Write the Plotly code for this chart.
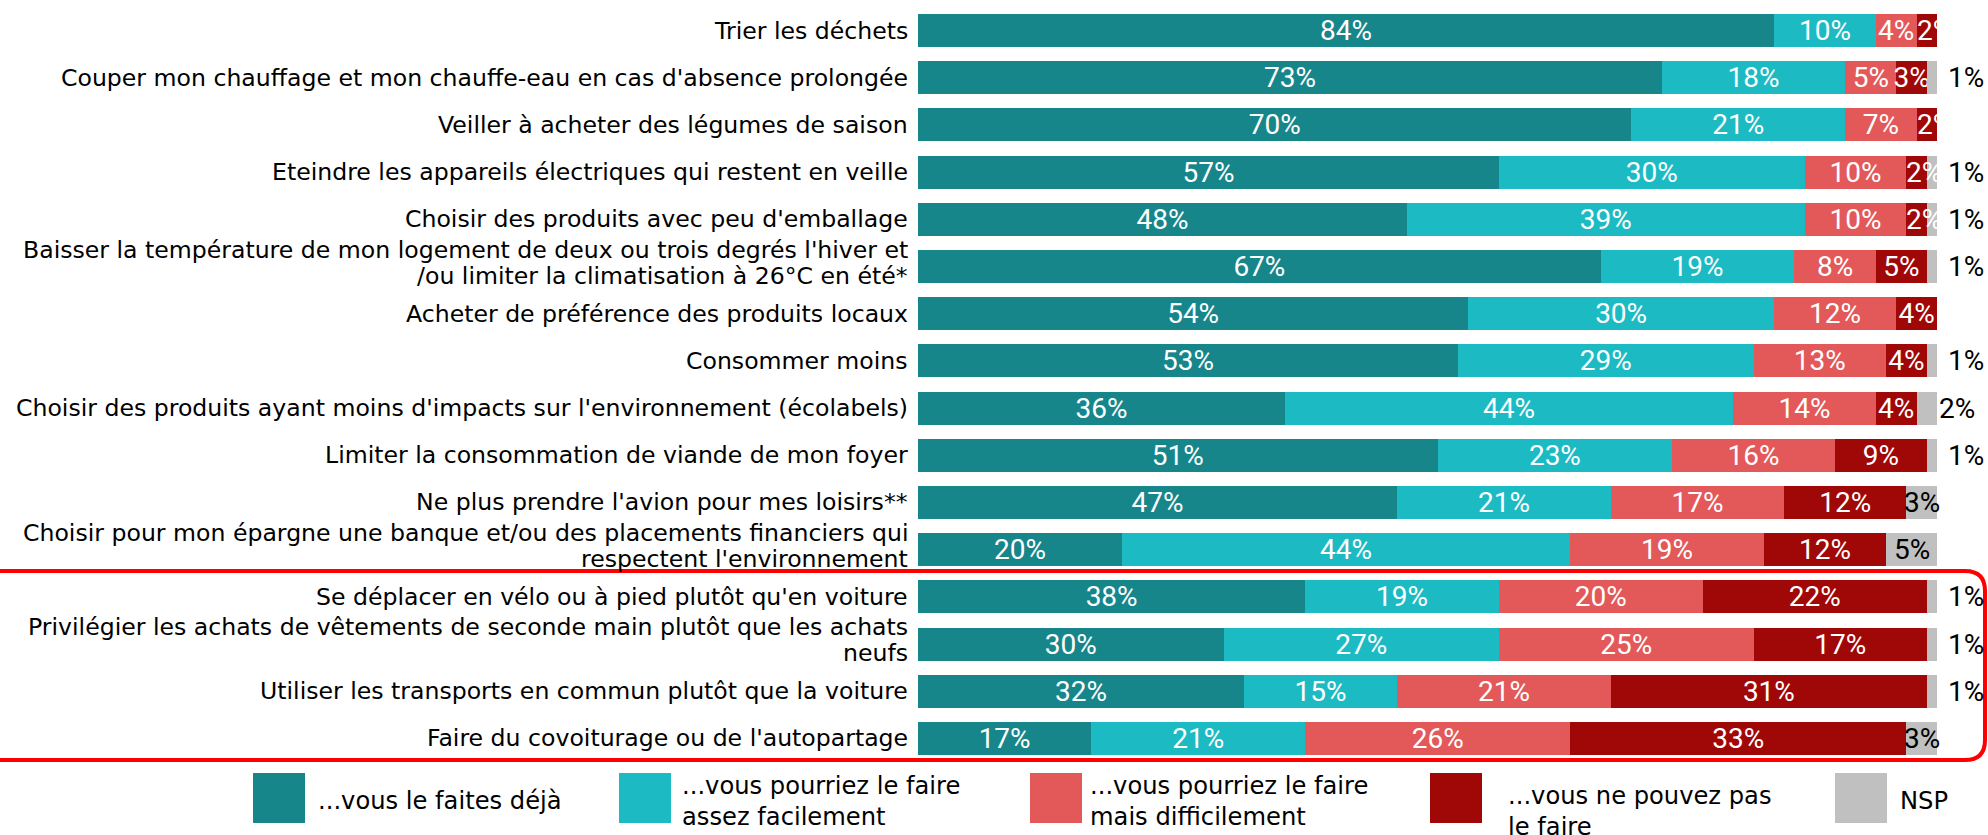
import plotly.graph_objects as go

categories = [
    "Trier les déchets",
    "Couper mon chauffage et mon chauffe-eau en cas d'absence prolongée",
    "Veiller à acheter des légumes de saison",
    "Eteindre les appareils électriques qui restent en veille",
    "Choisir des produits avec peu d'emballage",
    "Baisser la température de mon logement de deux ou trois degrés l'hiver et<br>/ou limiter la climatisation à 26°C en été*",
    "Acheter de préférence des produits locaux",
    "Consommer moins",
    "Choisir des produits ayant moins d'impacts sur l'environnement (écolabels)",
    "Limiter la consommation de viande de mon foyer",
    "Ne plus prendre l'avion pour mes loisirs**",
    "Choisir pour mon épargne une banque et/ou des placements financiers qui<br>respectent l'environnement",
    "Se déplacer en vélo ou à pied plutôt qu'en voiture",
    "Privilégier les achats de vêtements de seconde main plutôt que les achats<br>neufs",
    "Utiliser les transports en commun plutôt que la voiture",
    "Faire du covoiturage ou de l'autopartage",
]
deja = [84, 73, 70, 57, 48, 67, 54, 53, 36, 51, 47, 20, 38, 30, 32, 17]
facile = [10, 18, 21, 30, 39, 19, 30, 29, 44, 23, 21, 44, 19, 27, 15, 21]
difficile = [4, 5, 7, 10, 10, 8, 12, 13, 14, 16, 17, 19, 20, 25, 21, 26]
pas = [2, 3, 2, 2, 2, 5, 4, 4, 4, 9, 12, 12, 22, 17, 31, 33]
nsp = [0, 1, 0, 1, 1, 1, 0, 1, 2, 1, 3, 5, 1, 1, 1, 3]

series_names = ["...vous le faites déjà", "...vous pourriez le faire<br>assez facilement",
                "...vous pourriez le faire<br>mais difficilement", "...vous ne pouvez pas<br>le faire", "NSP"]
colors = ["#17868B", "#1CBBC3", "#E35959", "#A00707", "#C0C0C0"]

FONT = "DejaVu Sans, sans-serif"
VFONT = "Roboto, sans-serif"
VSIZE = 28
LSIZE = 23.6
W, H = 1988, 835
L, R, T, B = 918, 1937, 7, 762  # plot area in px
PW, PH = R - L, B - T


def px(x):
    return (x - L) / PW


def py(y):
    return (B - y) / PH


fig = go.Figure()
annotations = []
all_series = [deja, facile, difficile, pas, nsp]
for i, vals in enumerate(all_series):
    text = [f"{v}%" if (v > 2 and i < 4) else "" for v in vals]
    fig.add_trace(go.Bar(
        y=categories, x=vals, orientation="h", name=series_names[i],
        marker=dict(color=colors[i], line=dict(width=0)),
        text=text, textposition="inside", insidetextanchor="middle", textangle=0,
        textfont=dict(color="white", size=VSIZE, family=VFONT),
        width=0.7, cliponaxis=True, showlegend=False, hoverinfo="skip",
    ))

# very narrow segments: label starts at the segment start (overflowing to the right)
for r_idx, cat in enumerate(categories):
    start = 0
    for i in range(4):
        v = all_series[i][r_idx]
        if 0 < v <= 2:
            annotations.append(dict(x=start, y=cat, xref="x", yref="y", text=f"{v}%",
                                    showarrow=False, xanchor="left", xshift=-2,
                                    font=dict(size=VSIZE, color="white", family=VFONT)))
        start += v

# category labels (one annotation per text line, tight line spacing)
LINE_GAP = 26
for cat in categories:
    lines = cat.split("<br>")
    n = len(lines)
    for k, line in enumerate(lines):
        shift = ((n - 1) / 2 - k) * LINE_GAP + (4 if n > 1 else 0)
        annotations.append(dict(x=0, y=cat, xref="x", yref="y", text=line, showarrow=False,
                                xanchor="right", yanchor="middle", xshift=-8, yshift=shift,
                                font=dict(size=LSIZE, color="black", family=FONT)))

# NSP labels
for cat, a, b, c, d, n in zip(categories, deja, facile, difficile, pas, nsp):
    if n <= 0:
        continue
    start = a + b + c + d
    if n >= 3:
        annotations.append(dict(x=start + n / 2, y=cat, xref="x", yref="y", text=f"{n}%",
                                showarrow=False, xanchor="center",
                                font=dict(size=VSIZE, color="black", family=VFONT)))
    else:
        annotations.append(dict(x=start + n, y=cat, xref="x", yref="y", text=f"{n}%",
                                showarrow=False, xanchor="left", xshift=9 if n == 1 else 0,
                                font=dict(size=VSIZE, color="black", family=VFONT)))

shapes = []
# red highlight box with rounded right corners
x0, x1, y0, y1, r = -20, 1985, 571, 760, 20
path = (f"M {px(x0)},{py(y0)} L {px(x1 - r)},{py(y0)} Q {px(x1)},{py(y0)} {px(x1)},{py(y0 + r)} "
        f"L {px(x1)},{py(y1 - r)} Q {px(x1)},{py(y1)} {px(x1 - r)},{py(y1)} L {px(x0)},{py(y1)}")
shapes.append(dict(type="path", xref="paper", yref="paper", path=path,
                   line=dict(color="#FF0000", width=4)))

# legend drawn manually
leg_sq_x = [253, 619, 1030, 1430, 1835]
leg_sq_y = (773, 823)
leg_txt_x = [316, 680, 1088, 1506, 1898]
for i in range(5):
    shapes.append(dict(type="rect", xref="paper", yref="paper",
                       x0=px(leg_sq_x[i]), x1=px(leg_sq_x[i] + 52),
                       y0=py(leg_sq_y[1]), y1=py(leg_sq_y[0]),
                       fillcolor=colors[i], line=dict(width=0)))
    ylab = 812 if i == 3 else 801
    annotations.append(dict(x=px(leg_txt_x[i]), y=py(ylab), xref="paper", yref="paper",
                            text=series_names[i], showarrow=False, xanchor="left", yanchor="middle",
                            align="left", font=dict(size=24.2, color="black", family=FONT)))

fig.update_layout(
    width=W, height=H,
    margin=dict(l=L, r=W - R, t=T, b=H - B, autoexpand=False),
    barmode="stack", bargap=0.3,
    plot_bgcolor="white", paper_bgcolor="white",
    xaxis=dict(range=[0, 100], visible=False, fixedrange=True, automargin=False),
    yaxis=dict(categoryorder="array", categoryarray=categories, autorange="reversed",
               showgrid=False, zeroline=False, showline=False, ticks="", automargin=False,
               showticklabels=False),
    uniformtext=dict(minsize=VSIZE, mode="show"),
    shapes=shapes, annotations=annotations,
    hovermode=False,
)

fig.write_html("out.html")
